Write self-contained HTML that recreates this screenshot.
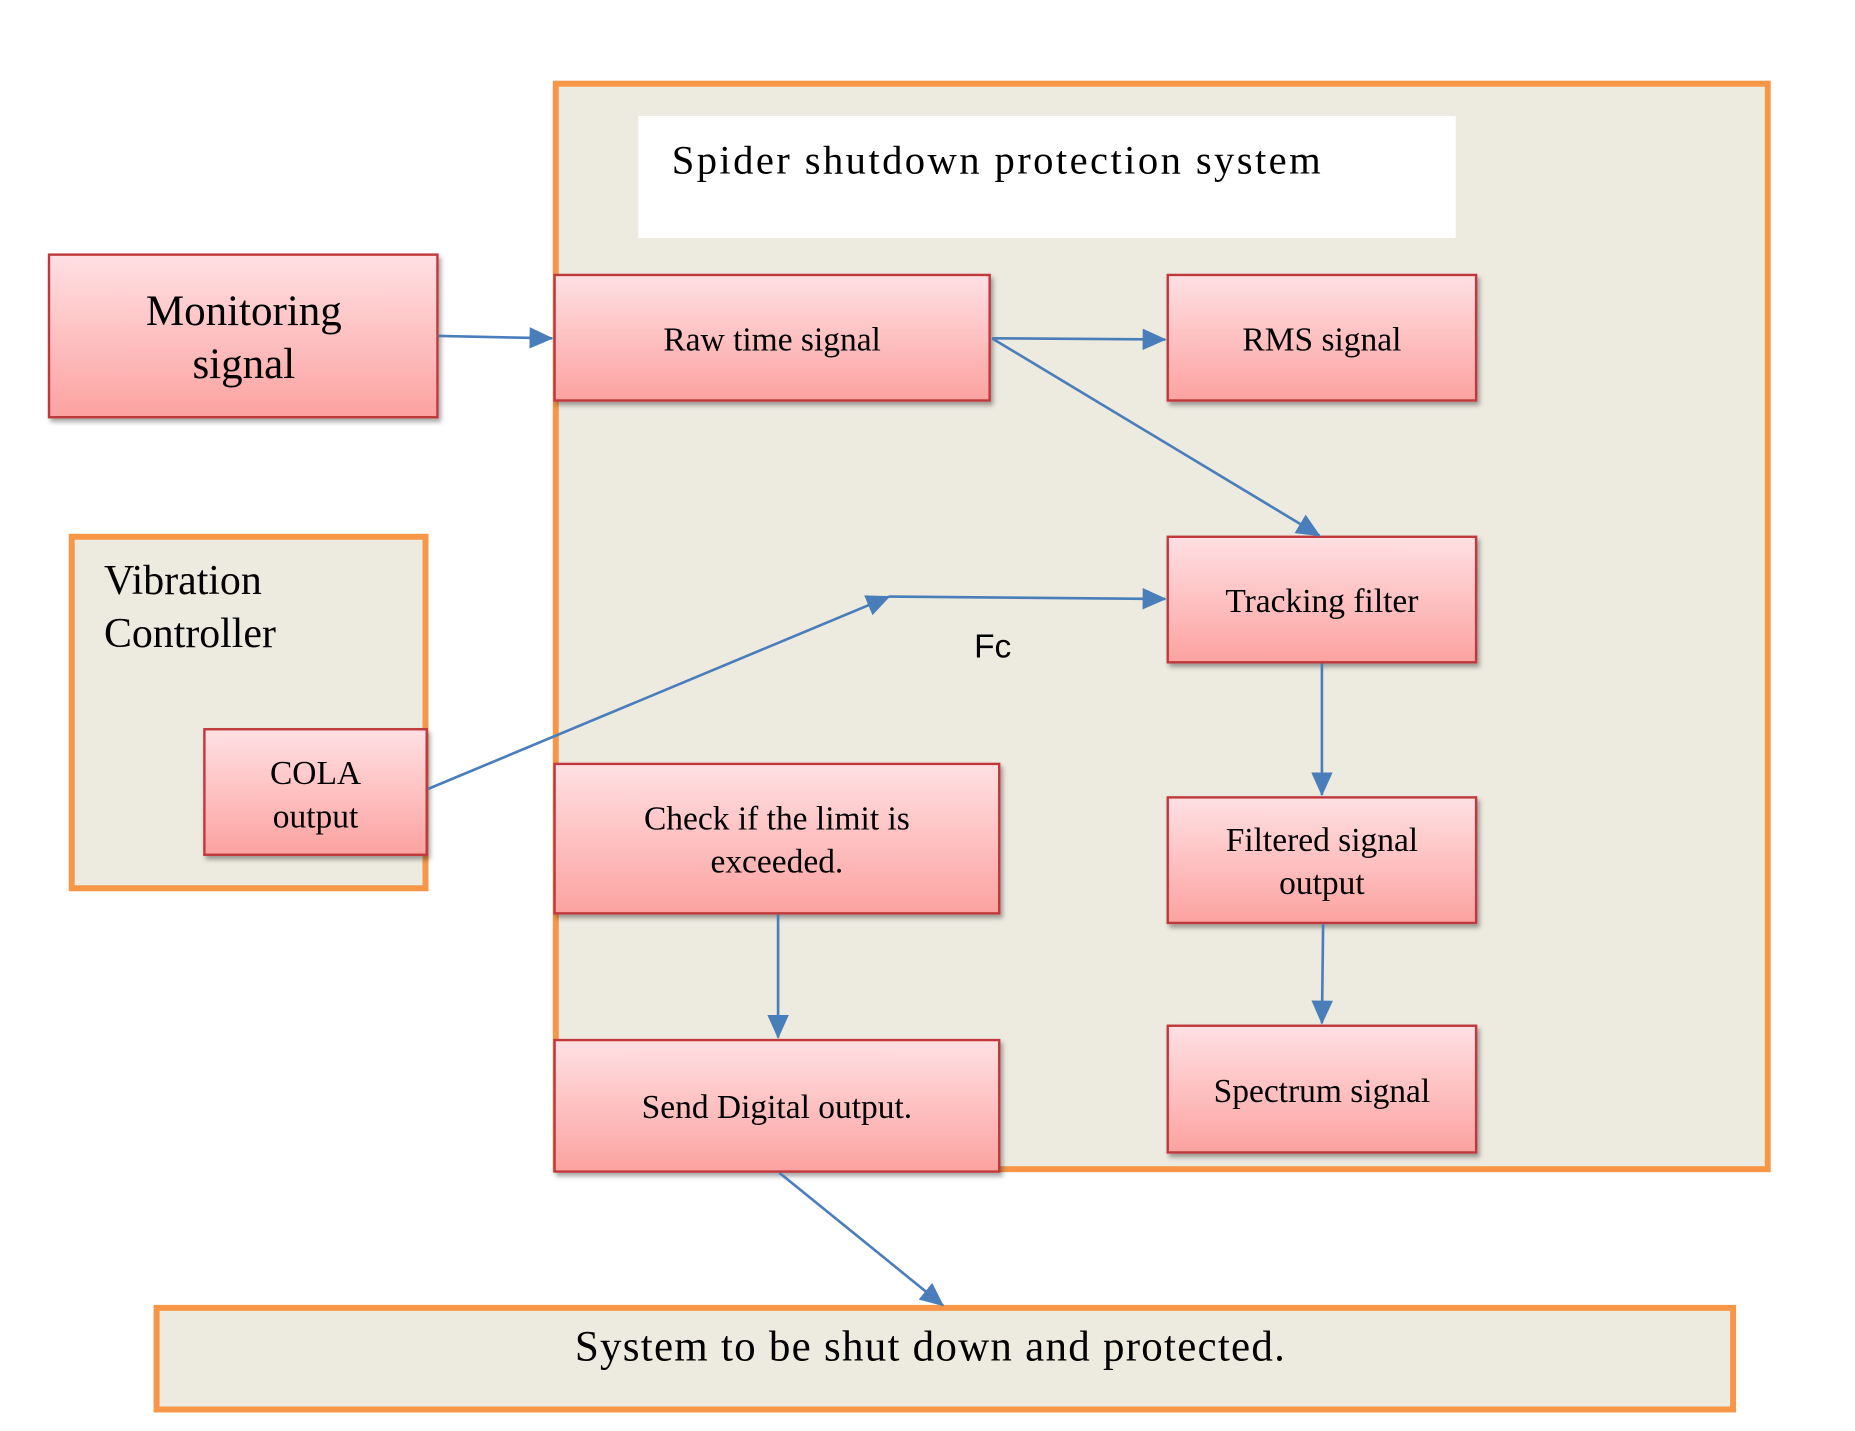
<!DOCTYPE html>
<html><head><meta charset="utf-8"><style>
html,body{margin:0;padding:0;background:#fff;}
svg{display:block;}
text{font-family:"Liberation Serif",serif;fill:#000;}
</style></head><body>
<svg width="1855" height="1431" viewBox="0 0 1552 1197" preserveAspectRatio="none" xmlns="http://www.w3.org/2000/svg">
<defs>
<linearGradient id="g" x1="0" y1="0" x2="0" y2="1">
<stop offset="0" stop-color="#ffe0e3"/><stop offset="1" stop-color="#fca2a0"/>
</linearGradient>
<filter id="s" x="-10%" y="-10%" width="130%" height="140%"><feDropShadow dx="2" dy="3" stdDeviation="2" flood-color="#000" flood-opacity="0.35"/></filter>
<marker id="a" markerWidth="20" markerHeight="18" refX="19" refY="9" orient="auto" markerUnits="userSpaceOnUse" viewBox="0 0 20 18">
<path d="M0,0 L20,9 L0,18 z" fill="#4a7ebb"/></marker>
</defs>
<rect x="465" y="70" width="1014" height="908" fill="#edeae0" stroke="#f79646" stroke-width="5"/>
<rect x="534" y="97" width="684" height="102" fill="#fff"/>
<text x="562" y="145" font-size="34" textLength="543" lengthAdjust="spacing">Spider shutdown protection system</text>
<rect x="60" y="449" width="296" height="294" fill="#edeae0" stroke="#f79646" stroke-width="5"/>
<text x="87" y="497" font-size="35">Vibration</text>
<text x="87" y="541" font-size="35">Controller</text>
<rect x="131" y="1094" width="1319" height="85" fill="#edeae0" stroke="#f79646" stroke-width="5"/>
<text x="481" y="1138" font-size="36" textLength="594" lengthAdjust="spacing">System to be shut down and protected.</text>
<g fill="url(#g)" stroke="#c0393b" stroke-width="2" filter="url(#s)">
<rect x="41" y="213" width="325" height="136"/>
<rect x="464" y="230" width="364" height="105"/>
<rect x="977" y="230" width="258" height="105"/>
<rect x="977" y="449" width="258" height="105"/>
<rect x="977" y="667" width="258" height="105"/>
<rect x="977" y="858" width="258" height="106"/>
<rect x="464" y="639" width="372" height="125"/>
<rect x="464" y="870" width="372" height="110"/>
<rect x="171" y="610" width="186" height="105"/>
</g>
<g text-anchor="middle">
<text x="204" y="272" font-size="36">Monitoring</text>
<text x="204" y="316" font-size="36">signal</text>
<text x="646" y="293" font-size="28">Raw time signal</text>
<text x="1106" y="293" font-size="28">RMS signal</text>
<text x="1106" y="512" font-size="28">Tracking filter</text>
<text x="1106" y="712" font-size="28">Filtered signal</text>
<text x="1106" y="748" font-size="28">output</text>
<text x="1106" y="922" font-size="28">Spectrum signal</text>
<text x="650" y="694" font-size="28">Check if the limit is</text>
<text x="650" y="730" font-size="28">exceeded.</text>
<text x="650" y="935" font-size="28">Send Digital output.</text>
<text x="264" y="656" font-size="28">COLA</text>
<text x="264" y="692" font-size="28">output</text>
</g>
<text x="815" y="550" font-size="28" style="font-family:'Liberation Sans',sans-serif">Fc</text>
<g stroke="#4a7ebb" stroke-width="2.2" fill="none" marker-end="url(#a)">
<line x1="367" y1="281" x2="462" y2="283"/>
<line x1="830" y1="283" x2="975" y2="284"/>
<line x1="830" y1="283" x2="1104" y2="448"/>
<line x1="1106" y1="555" x2="1106" y2="665"/>
<line x1="1107" y1="773" x2="1106" y2="856"/>
<line x1="651" y1="765" x2="651" y2="868"/>
<line x1="652" y1="981" x2="789" y2="1092"/>
<line x1="358" y1="660" x2="744" y2="499"/>
<line x1="744" y1="499" x2="975" y2="501"/>
</g>
</svg>
</body></html>
